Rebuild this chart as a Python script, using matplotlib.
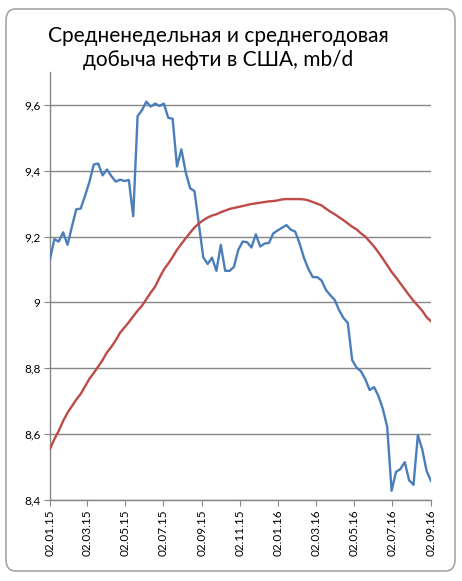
import datetime as dt
import numpy as np
import matplotlib
matplotlib.use("Agg")
import matplotlib.pyplot as plt
import matplotlib.dates as mdates
from matplotlib.patches import FancyBboxPatch
from matplotlib.ticker import FuncFormatter

# weekly US crude output, mb/d, weeks from 02.01.2015 to 02.09.2016
start = dt.date(2015, 1, 2)
weekly = [9.132, 9.192, 9.185, 9.213, 9.175, 9.230, 9.283, 9.285, 9.324, 9.366,
          9.419, 9.422, 9.386, 9.404, 9.384, 9.367, 9.373, 9.369, 9.372, 9.262,
          9.566, 9.584, 9.610, 9.595, 9.604, 9.597, 9.604, 9.561, 9.558, 9.413,
          9.465, 9.395, 9.347, 9.338, 9.237, 9.137, 9.117, 9.136, 9.096, 9.175,
          9.096, 9.096, 9.108, 9.160, 9.185, 9.183, 9.167, 9.207, 9.170, 9.179,
          9.181, 9.210, 9.219, 9.227, 9.235, 9.221, 9.215, 9.179, 9.135, 9.102,
          9.077, 9.077, 9.067, 9.038, 9.022, 9.008, 8.977, 8.953, 8.938, 8.825,
          8.802, 8.791, 8.767, 8.734, 8.743, 8.716, 8.677, 8.622, 8.428, 8.485,
          8.494, 8.515, 8.460, 8.446, 8.597, 8.554, 8.488, 8.458]
# yearly (rolling) average
yearly = [8.555, 8.585, 8.610, 8.640, 8.665, 8.685, 8.705, 8.722, 8.745, 8.768,
          8.786, 8.805, 8.825, 8.848, 8.865, 8.885, 8.908, 8.924, 8.940, 8.958,
          8.975, 8.990, 9.010, 9.030, 9.048, 9.075, 9.100, 9.118, 9.138, 9.160,
          9.178, 9.195, 9.212, 9.228, 9.240, 9.250, 9.258, 9.264, 9.268, 9.274,
          9.279, 9.284, 9.287, 9.290, 9.293, 9.296, 9.299, 9.301, 9.303, 9.305,
          9.307, 9.308, 9.310, 9.313, 9.314, 9.314, 9.314, 9.314, 9.313, 9.310,
          9.305, 9.300, 9.295, 9.285, 9.276, 9.268, 9.259, 9.250, 9.240, 9.230,
          9.222, 9.210, 9.200, 9.185, 9.170, 9.152, 9.133, 9.113, 9.093, 9.076,
          9.058, 9.040, 9.022, 9.005, 8.990, 8.975, 8.955, 8.943]
dates = [start + dt.timedelta(weeks=i) for i in range(len(weekly))]
tick_dates = [dt.date(2015, m, 2) for m in (1, 3, 5, 7, 9, 11)] + \
             [dt.date(2016, m, 2) for m in (1, 3, 5, 7, 9)]
title = "Средненедельная и среднегодовая\nдобыча нефти в США, mb/d"

plt.rcParams['font.family'] = ['Lato', 'DejaVu Sans']

fig = plt.figure(figsize=(4.62, 5.81), dpi=100)
fig.patch.set_facecolor("white")
frame = FancyBboxPatch((6 / 462, 10 / 581), 449 / 462, 562 / 581,
                       boxstyle="round,pad=0,rounding_size=0.02",
                       transform=fig.transFigure, facecolor="none",
                       edgecolor="#a6a6a6", linewidth=1.2)
fig.patches.append(frame)

ax = fig.add_axes([50 / 462, 81 / 581, 381 / 462, 428 / 581])
ax.set_facecolor("none")
grid_c = "#868686"
ax.plot(dates, weekly, color="#4a7ebb", lw=1.7, zorder=3)
ax.plot(dates, yearly, color="#be4b48", lw=1.7, zorder=3)

ax.set_xlim(dates[0], dates[-1])
ax.set_ylim(8.4, 9.7)
ax.set_yticks(np.arange(8.4, 9.61, 0.2))
ax.yaxis.set_major_formatter(FuncFormatter(
    lambda v, p: ("%g" % round(v, 1)).replace(".", ",")))
ax.set_xticks(tick_dates)
ax.xaxis.set_major_formatter(mdates.DateFormatter("%d.%m.%y"))
ax.tick_params(axis="x", rotation=90, labelsize=8.5, length=4, color=grid_c, pad=3)
ax.tick_params(axis="y", labelsize=8.5, length=4, color=grid_c, pad=3)
ax.grid(axis="y", color=grid_c, lw=1.0)
for s in ("top", "right"):
    ax.spines[s].set_visible(False)
for s in ("left", "bottom"):
    ax.spines[s].set_color(grid_c)
    ax.spines[s].set_linewidth(1.0)

fig.text(218 / 462, 1 - 48 / 581, title, ha="center", va="center",
         fontsize=15, linespacing=1.3)

fig.savefig("out.png", dpi=100)
